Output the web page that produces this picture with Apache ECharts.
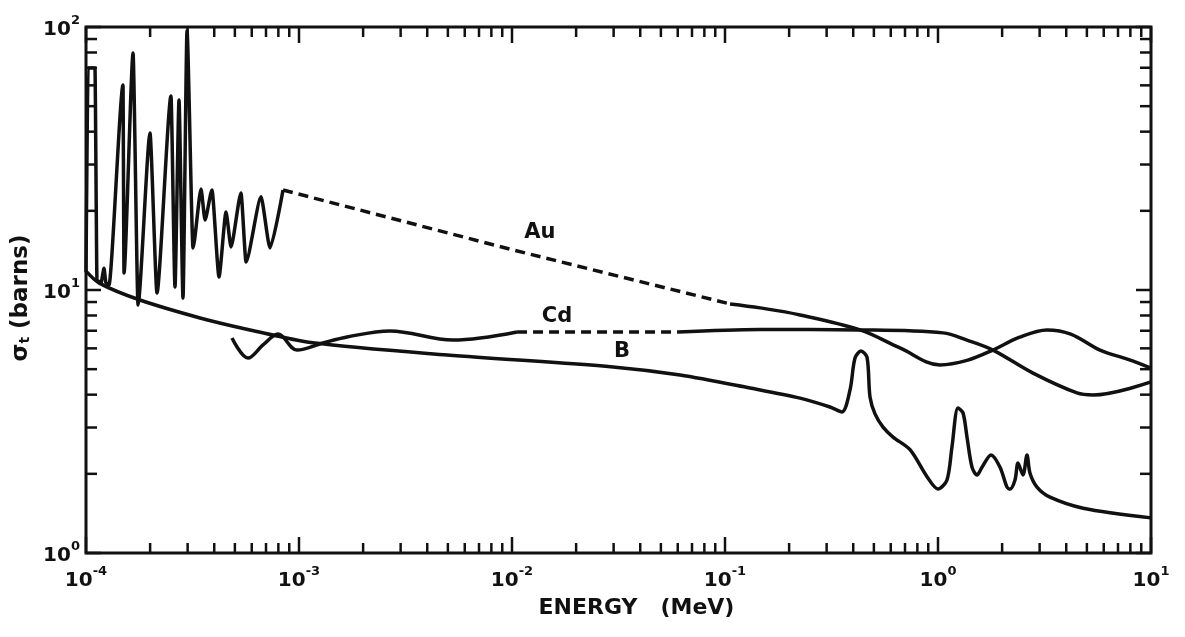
<!DOCTYPE html>
<html>
<head>
<meta charset="utf-8">
<script src="https://cdn.jsdelivr.net/npm/echarts@6/dist/echarts.min.js"></script>
<style>
html,body{margin:0;padding:0;background:#fff;}
#c{width:1185px;height:637px;}
</style>
</head>
<body>
<div id="c"></div>
<script>
// ---- data (energy in MeV, total cross section in barns) ----
const auResE = [1.00e-4,1.022e-4,1.102e-4,1.126e-4,1.176e-4,1.215e-4,1.241e-4,1.282e-4,1.492e-4,1.508e-4,1.663e-4,1.755e-4,1.997e-4,2.154e-4,2.506e-4,2.617e-4,2.733e-4,2.854e-4,2.98e-4,3.18e-4,3.467e-4,3.62e-4,3.904e-4,4.211e-4,4.543e-4,4.795e-4,5.342e-4,5.64e-4,6.632e-4,7.307e-4,8.414e-4];
const auResS = [11.7,69.8,69.8,10.9,10.63,12.1,10.63,10.45,60.2,11.6,79.6,8.77,39.5,9.74,54.7,10.27,52.8,9.32,97.0,14.44,24.2,18.46,24.0,11.2,19.8,14.57,23.4,12.78,22.6,14.44,24.0];
const auDashE = [8.414e-4,1.011e-2,0.1056];
const auDashS = [24.0,14.2,8.85];
const auHighE = [0.1056,0.146,0.225,0.4303,0.663,1.022,1.368,1.812,2.4,3.249,4.2,5.762,7.8,10];
const auHighS = [8.85,8.55,8.04,7.05,6.02,5.19,5.4,5.91,6.6,7.05,6.8,5.91,5.45,5.05];
const cdLowE = [4.846e-4,5.762e-4,6.8e-4,7.968e-4,9.786e-4,1.296e-3,1.681e-3,2.675e-3,5.284e-3,1.056e-2];
const cdLowS = [6.57,5.51,6.2,6.80,5.91,6.29,6.63,6.99,6.45,6.92];
const cdDashE = [1.056e-2,0.0602];
const cdDashS = [6.92,6.92];
const cdHighE = [0.0602,0.146,0.4303,1.056,1.368,1.812,2.793,4.494,5.343,10];
const cdHighS = [6.92,7.08,7.05,6.87,6.45,5.91,4.83,4.06,3.99,4.47];
const bE = [1.0e-4,1.16e-4,1.793e-4,3.43e-4,5.888e-4,1.16e-3,4.96e-3,0.0298,0.0615,0.131,0.225,0.311,0.354,0.3864,0.4077,0.435,0.4642,0.4795,0.5061,0.552,0.615,0.739,0.888,1.0,1.102,1.163,1.2416,1.3104,1.368,1.4443,1.5246,1.6096,1.774,1.955,2.108,2.178,2.299,2.375,2.506,2.617,2.704,2.916,3.356,4.80,10];
const bS = [11.8,10.6,9.16,7.83,7.05,6.3,5.66,5.1,4.75,4.24,3.88,3.59,3.44,4.17,5.51,5.86,5.56,3.92,3.38,3.01,2.76,2.47,1.95,1.75,1.896,2.53,3.56,3.41,2.76,2.12,1.98,2.12,2.36,2.12,1.78,1.75,1.896,2.20,1.98,2.36,2.01,1.78,1.63,1.48,1.36];
// curve labels: [energy, sigma, text]
const curveLabels = [[0.01353,16.47,'Au'],[0.01627,7.90,'Cd'],[0.03284,5.81,'B']];
// axis tick decades
const xDecades = [-4,-3,-2,-1,0,1];
const yDecades = [0,1,2];

const zip = (a,b) => a.map((v,i)=>[v,b[i]]);
const INK = '#111';
const FONT = 'DejaVu Sans';

// tick marks (mantissas 1..9 within each decade)
const xTicks = [];
for (let i=0;i<xDecades.length-1;i++) for (let m=1;m<=9;m++) xTicks.push([m*Math.pow(10,xDecades[i]),10,m===1?1:0]);
xTicks.push([Math.pow(10,xDecades[xDecades.length-1]),10,1]);
const yTicks = [];
for (let i=0;i<yDecades.length-1;i++) for (let m=1;m<=9;m++) yTicks.push([1e-3,m*Math.pow(10,yDecades[i]),m===1?1:0]);
yTicks.push([1e-3,Math.pow(10,yDecades[yDecades.length-1]),1]);

const chart = echarts.init(document.getElementById('c'));
const supFmt = v => {
  const e = Math.round(Math.log10(v));
  return '{b|10}{s|' + (e<0 ? '-'+(-e) : e) + '}';
};
const richLbl = {
  b:{fontFamily:FONT,fontSize:20,fontWeight:'bold',color:INK,lineHeight:26,verticalAlign:'bottom'},
  s:{fontFamily:FONT,fontSize:13,fontWeight:'bold',color:INK,lineHeight:26,verticalAlign:'top'}
};
const lineSeries = (data, opts) => Object.assign({
  type:'line', data, showSymbol:false, symbol:'none', smooth:0.35,
  lineStyle:{color:INK,width:3.5}, z:3, silent:true
}, opts||{});

chart.setOption({
  animation:false,
  backgroundColor:'#fff',
  grid:{left:86,right:34,top:27,bottom:84,show:true,borderColor:INK,borderWidth:3,backgroundColor:'transparent'},
  xAxis:{
    type:'log', min:1e-4, max:10, logBase:10,
    axisLine:{show:false}, axisTick:{show:false}, splitLine:{show:false}, minorTick:{show:false},
    axisLabel:{formatter:supFmt, rich:richLbl, margin:12, showMinLabel:true, showMaxLabel:true, hideOverlap:false},
    name:'ENERGY   (MeV)', nameLocation:'middle', nameGap:44,
    nameTextStyle:{fontFamily:FONT,fontSize:22,fontWeight:'bold',color:INK,padding:[0,0,0,36]}
  },
  yAxis:{
    type:'log', min:1, max:100, logBase:10,
    axisLine:{show:false}, axisTick:{show:false}, splitLine:{show:false}, minorTick:{show:false},
    axisLabel:{formatter:supFmt, rich:richLbl, margin:6, showMinLabel:true, showMaxLabel:true, hideOverlap:false},
    name:'{a|σ}{t|t}{a| (barns)}', nameLocation:'middle', nameGap:52, nameRotate:90,
    nameTextStyle:{padding:[0,16,0,0],rich:{
      a:{fontFamily:FONT,fontSize:23,fontWeight:'bold',color:INK,lineHeight:28,verticalAlign:'bottom'},
      t:{fontFamily:FONT,fontSize:14,fontWeight:'bold',color:INK,lineHeight:28,verticalAlign:'bottom'}
    }}
  },
  series:[
    lineSeries(zip(auResE,auResS),{smooth:0.2,smoothMonotone:'x'}),
    lineSeries(zip(auDashE,auDashS),{smooth:false,lineStyle:{color:INK,width:3.5,type:[10,6]}}),
    lineSeries(zip(auHighE,auHighS)),
    lineSeries(zip(cdLowE,cdLowS)),
    lineSeries(zip(cdDashE,cdDashS),{smooth:false,lineStyle:{color:INK,width:3.5,type:[10,6]}}),
    lineSeries(zip(cdHighE,cdHighS)),
    lineSeries(zip(bE,bS),{smooth:0.3}),
    {
      type:'scatter', symbolSize:0, silent:true, z:4, itemStyle:{opacity:1},
      data:curveLabels.map(d=>({value:[d[0],d[1]],label:{formatter:d[2]}})),
      label:{show:true,opacity:1,position:[0,0],align:'center',verticalAlign:'middle',fontFamily:FONT,fontSize:21,fontWeight:'bold',color:INK}
    },
    {
      type:'custom', silent:true, clip:false, z:5, data:xTicks,
      renderItem:(params,api)=>{
        const cs = params.coordSys;
        const x = api.coord([api.value(0),api.value(1)])[0];
        const L = api.value(2) ? 16 : 10;
        const st = {stroke:INK,lineWidth:2.5};
        return {type:'group',children:[
          {type:'line',shape:{x1:x,y1:cs.y+cs.height,x2:x,y2:cs.y+cs.height-L},style:st},
          {type:'line',shape:{x1:x,y1:cs.y,x2:x,y2:cs.y+L},style:st}
        ]};
      }
    },
    {
      type:'custom', silent:true, clip:false, z:5, data:yTicks,
      renderItem:(params,api)=>{
        const cs = params.coordSys;
        const y = api.coord([api.value(0),api.value(1)])[1];
        const L = api.value(2) ? 15 : 11;
        const st = {stroke:INK,lineWidth:2.5};
        return {type:'group',children:[
          {type:'line',shape:{x1:cs.x,y1:y,x2:cs.x+L,y2:y},style:st},
          {type:'line',shape:{x1:cs.x+cs.width,y1:y,x2:cs.x+cs.width-L,y2:y},style:st}
        ]};
      }
    }
  ]
});
</script>
</body>
</html>
